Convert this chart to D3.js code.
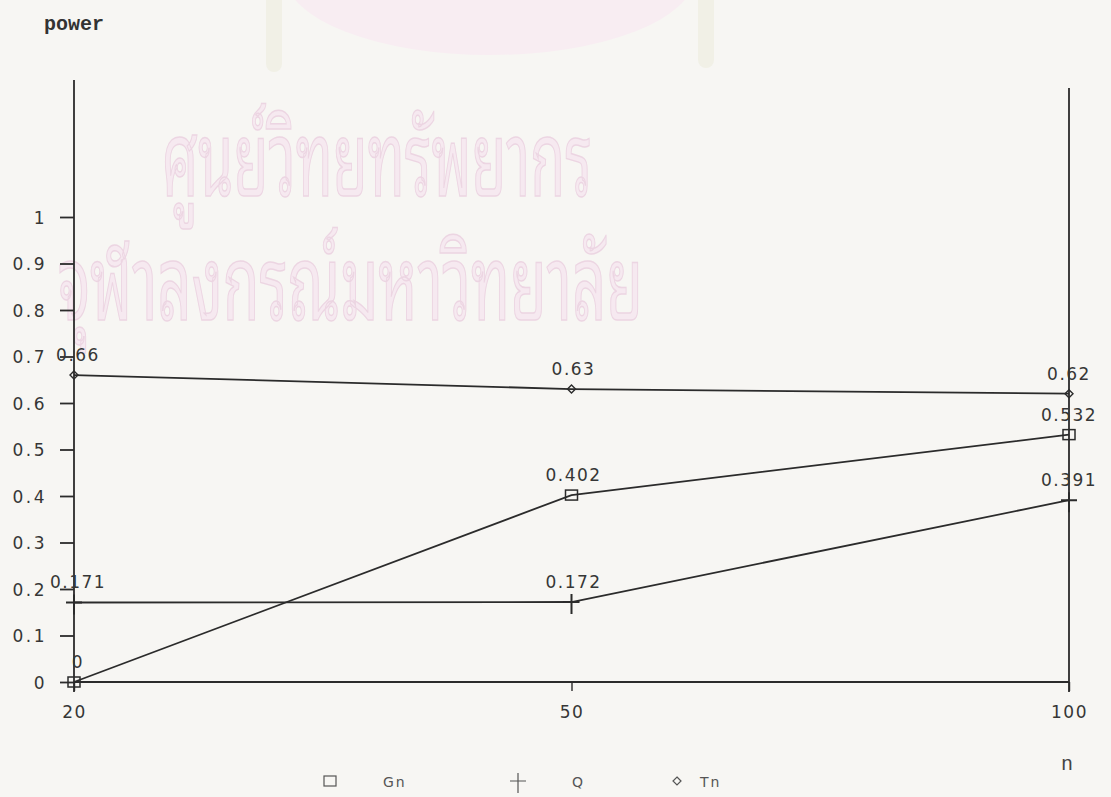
<!DOCTYPE html>
<html>
<head>
<meta charset="utf-8">
<script src="https://cdn.jsdelivr.net/npm/d3@7/dist/d3.min.js"></script>
<style>
  html, body { margin: 0; padding: 0; background: #f7f6f3; }
  svg { display: block; }
</style>
</head>
<body>
<svg id="chart" width="1111" height="797"></svg>
<script>
// Sample sizes (categorical x positions) and power of each test
const sampleSizes = ["20", "50", "100"];
const gnPower = [0, 0.402, 0.532];
const qPower = [0.171, 0.172, 0.391];
const tnPower = [0.66, 0.63, 0.62];
const yTicks = [0, 0.1, 0.2, 0.3, 0.4, 0.5, 0.6, 0.7, 0.8, 0.9, 1];
const yTickLabels = ["0", "0.1", "0.2", "0.3", "0.4", "0.5", "0.6", "0.7", "0.8", "0.9", "1"];
const seriesNames = ["Gn", "Q", "Tn"];

const svg = d3.select("#chart");
const ink = "#2b2b2b";
const textInk = "#363636";
const tickFont = "'DejaVu Sans', sans-serif";
const thaiFont = "'Noto Sans Thai Looped', 'Loma', 'Garuda', 'Noto Sans Thai', 'Noto Sans', sans-serif";

// library stamp in the background
const stamp = svg.append("g").attr("class", "stamp");
stamp.append("ellipse")
  .attr("cx", 490).attr("cy", -25).attr("rx", 205).attr("ry", 80)
  .attr("fill", "#f8edf2");
stamp.append("rect").attr("x", 266).attr("y", -10).attr("width", 16).attr("height", 82)
  .attr("rx", 8).attr("fill", "#f1f0e6");
stamp.append("rect").attr("x", 698).attr("y", -10).attr("width", 16).attr("height", 78)
  .attr("rx", 8).attr("fill", "#f1f0e6");
stamp.append("text")
  .attr("x", 162).attr("y", 196)
  .attr("font-family", thaiFont)
  .attr("font-size", 104)
  .attr("textLength", 430)
  .attr("lengthAdjust", "spacingAndGlyphs")
  .attr("fill", "#f6e9f0").attr("stroke", "#ecd5e2").attr("stroke-width", 1.5)
  .text("ศูนย์วิทยทรัพยากร");
stamp.append("text")
  .attr("x", 58).attr("y", 320)
  .attr("font-family", thaiFont)
  .attr("font-size", 104)
  .attr("textLength", 585)
  .attr("lengthAdjust", "spacingAndGlyphs")
  .attr("fill", "#f6e9f0").attr("stroke", "#ecd5e2").attr("stroke-width", 1.5)
  .text("จุฬาลงกรณ์มหาวิทยาลัย");

// scales
const x = d3.scalePoint().domain(sampleSizes).range([74, 1069]);
const y = d3.scaleLinear().domain([0, 1]).range([682, 217]);

// frame: left axis, right axis, baseline
const frame = svg.append("g").attr("stroke", ink).attr("stroke-width", 1.8).attr("fill", "none");
frame.append("line").attr("x1", x("20")).attr("x2", x("20")).attr("y1", 80).attr("y2", y(0) + 10);
frame.append("line").attr("x1", x("100")).attr("x2", x("100")).attr("y1", 88).attr("y2", y(0) + 10);
frame.append("line").attr("x1", x("20")).attr("x2", x("100")).attr("y1", y(0)).attr("y2", y(0));

// y axis ticks and labels
const yAxis = d3.axisLeft(y)
  .tickValues(yTicks)
  .tickFormat((d, i) => yTickLabels[i])
  .tickSize(14)
  .tickPadding(13);
const gy = svg.append("g").attr("transform", `translate(${x("20")},0)`).call(yAxis);
gy.select(".domain").remove();
gy.selectAll(".tick line").attr("stroke", ink).attr("stroke-width", 1.8);
gy.selectAll(".tick text")
  .attr("fill", textInk)
  .attr("font-family", tickFont)
  .attr("font-size", 17)
  .attr("letter-spacing", 2.5)
  .attr("dy", "0.36em");

// x axis ticks and labels
const xAxis = d3.axisBottom(x).tickSize(9).tickPadding(15);
const gx = svg.append("g").attr("transform", `translate(0,${y(0)})`).call(xAxis);
gx.select(".domain").remove();
gx.selectAll(".tick line").attr("stroke", ink).attr("stroke-width", 1.4);
gx.selectAll(".tick text")
  .attr("fill", textInk)
  .attr("font-family", tickFont)
  .attr("font-size", 17)
  .attr("letter-spacing", 1.5);

// axis titles
svg.append("text")
  .attr("x", 44).attr("y", 30)
  .attr("font-family", "'Liberation Mono', 'DejaVu Sans Mono', monospace")
  .attr("font-weight", "bold").attr("font-size", 20)
  .attr("fill", "#333")
  .text("power");
svg.append("text")
  .attr("x", x("100") - 2).attr("y", 770)
  .attr("text-anchor", "middle")
  .attr("font-family", "'Liberation Mono', 'DejaVu Sans Mono', monospace")
  .attr("font-size", 20)
  .attr("fill", "#444")
  .text("n");

// series lines
const line = d3.line().x((d, i) => x(sampleSizes[i])).y(d => y(d));
const series = [gnPower, qPower, tnPower];
svg.append("g").selectAll("path").data(series).join("path")
  .attr("d", d => line(d))
  .attr("fill", "none").attr("stroke", ink).attr("stroke-width", 1.8);

// marker shapes
function drawMarker(g, kind, cx, cy) {
  if (kind === "Gn") {
    g.append("rect").attr("x", cx - 6).attr("y", cy - 5).attr("width", 12).attr("height", 10)
      .attr("fill", "none").attr("stroke", ink).attr("stroke-width", 1.5);
  } else if (kind === "Q") {
    g.append("path").attr("d", `M${cx - 8},${cy}H${cx + 8}M${cx},${cy - 8}V${cy + 12}`)
      .attr("fill", "none").attr("stroke", ink).attr("stroke-width", 2);
  } else {
    g.append("path").attr("d", `M${cx},${cy - 4}L${cx + 4},${cy}L${cx},${cy + 4}L${cx - 4},${cy}Z`)
      .attr("fill", "none").attr("stroke", ink).attr("stroke-width", 1.4);
  }
}

const marks = svg.append("g");
const labelShift = [4, 2, 0];
series.forEach((vals, si) => {
  vals.forEach((v, i) => {
    const cx = x(sampleSizes[i]);
    const cy = y(v);
    drawMarker(marks, seriesNames[si], cx, cy);
    marks.append("text")
      .attr("x", cx + labelShift[i]).attr("y", cy - 14)
      .attr("text-anchor", "middle")
      .attr("font-family", tickFont)
      .attr("font-size", 17)
      .attr("letter-spacing", 1.5)
      .attr("fill", textInk)
      .text(String(v));
  });
});

// legend
const legend = svg.append("g");
const legendSymbolX = [330, 518, 677];
const legendTextX = [383, 572, 700];
seriesNames.forEach((name, i) => {
  drawMarker(legend, name, legendSymbolX[i], 781);
  legend.append("text")
    .attr("x", legendTextX[i]).attr("y", 787)
    .attr("font-family", tickFont)
    .attr("font-size", 14)
    .attr("letter-spacing", 2)
    .attr("fill", "#555")
    .text(name);
});
legend.selectAll("rect,path").attr("stroke", "#555").attr("stroke-width", 1.2);
</script>
</body>
</html>
